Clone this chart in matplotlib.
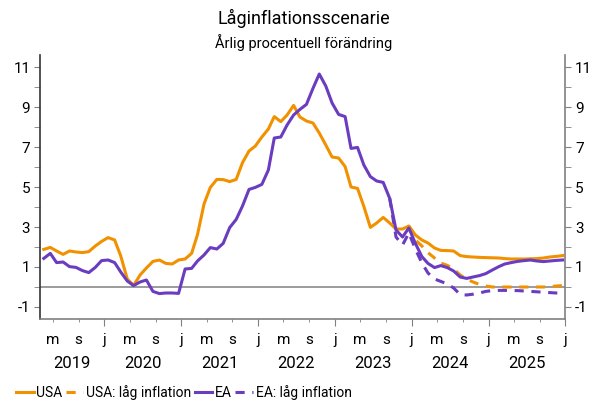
import matplotlib
matplotlib.use("Agg")
import matplotlib.pyplot as plt
import matplotlib.dates as mdates
import matplotlib.transforms as mtransforms
from matplotlib.ticker import MultipleLocator, FuncFormatter
import pandas as pd

# monthly data, Mar 2019 - Dec 2025
months = pd.date_range("2019-03-01", "2025-12-01", freq="MS")

usa = [1.88, 1.98, 1.8, 1.63, 1.8, 1.75, 1.72, 1.77, 2.05, 2.28,
       2.47, 2.35, 1.55, 0.4, 0.08, 0.6, 0.95, 1.28, 1.35, 1.18, 1.15, 1.35,
       1.4, 1.68, 2.62, 4.15, 4.98, 5.38, 5.37, 5.27, 5.38, 6.22, 6.8, 7.05,
       7.5, 7.9, 8.52, 8.27, 8.6, 9.08, 8.5, 8.3, 8.2, 7.7, 7.1, 6.5,
       6.45, 6.02, 5.0, 4.93, 4.03, 2.98, 3.2, 3.48, 3.2, 2.9, 2.9, 3.05,
       2.6, 2.35, 2.2, 1.95, 1.83, 1.82, 1.8, 1.57, 1.52, 1.5, 1.48, 1.47,
       1.46, 1.45, 1.42, 1.4, 1.4, 1.4, 1.41, 1.42, 1.45, 1.5, 1.53, 1.57]

ea = [1.43, 1.68, 1.22, 1.25, 1.02, 0.98, 0.82, 0.72, 0.98, 1.32,
      1.35, 1.22, 0.75, 0.3, 0.07, 0.25, 0.35, -0.22, -0.33, -0.3, -0.3, -0.32,
      0.9, 0.93, 1.3, 1.6, 1.97, 1.9, 2.18, 2.97, 3.38, 4.05, 4.88, 4.98,
      5.13, 5.85, 7.45, 7.5, 8.1, 8.6, 8.88, 9.13, 9.93, 10.65, 10.05, 9.2,
      8.63, 8.52, 6.93, 6.98, 6.1, 5.52, 5.3, 5.23, 4.43, 2.85, 2.5, 2.95,
      2.18, 1.52, 1.18, 0.97, 1.07, 0.97, 0.8, 0.5, 0.43, 0.5, 0.57, 0.67,
      0.85, 1.02, 1.15, 1.22, 1.28, 1.32, 1.35, 1.3, 1.27, 1.3, 1.33, 1.35]

# low inflation scenarios (start where they branch off)
usa_low_start = "2023-12-01"
usa_low = [3.05, 2.35, 2.05, 1.72, 1.45, 1.2, 1.08, 0.9, 0.6, 0.4, 0.25, 0.13,
           0.05, 0.0, 0.0, 0.0, 0.0, 0.0, 0.0, 0.0, 0.0, 0.0, 0.02, 0.05, 0.07]
ea_low_start = "2023-09-01"
ea_low = [4.43, 2.5, 2.1, 2.7, 1.9, 1.2, 0.7, 0.4, 0.28, 0.15, -0.05, -0.38,
          -0.4, -0.36, -0.3, -0.22, -0.18, -0.17, -0.17, -0.18, -0.18, -0.2,
          -0.22, -0.24, -0.26, -0.28, -0.3, -0.32]

years = [2019, 2020, 2021, 2022, 2023, 2024, 2025]
month_letters = {1: "j", 5: "m", 9: "s"}

orange = "#F29100"
purple = "#6A3DC0"
gray = "#808080"

plt.rcParams["font.family"] = ["Roboto", "DejaVu Sans"]

fig = plt.figure(figsize=(5.96, 4.01), dpi=100)
ax = fig.add_axes([0.0671, 0.2045, 0.8814, 0.6583])

# plot points at mid-month
shift = pd.Timedelta(days=18)
x = months + shift
x_ul = pd.date_range(usa_low_start, periods=len(usa_low), freq="MS") + shift
x_el = pd.date_range(ea_low_start, periods=len(ea_low), freq="MS") + shift

ax.axhline(0, color=gray, lw=1.1, zorder=1)
ax.plot(x, usa, color=orange, lw=2.2, label="USA", zorder=3)
ax.plot(x_ul, usa_low, color=orange, lw=2.2, ls=(0, (3, 2.5)), label="USA: låg inflation", zorder=2)
ax.plot(x, ea, color=purple, lw=2.2, label="EA", zorder=4)
ax.plot(x_el, ea_low, color=purple, lw=2.2, ls=(0, (3, 2.5)), label="EA: låg inflation", zorder=2)

ax.set_xlim(pd.Timestamp("2019-03-01"), pd.Timestamp("2026-01-01"))
ax.set_ylim(-1.6, 11.6)

# y axis on both sides
ax.yaxis.set_major_locator(MultipleLocator(2, offset=1))
ax.yaxis.set_minor_locator(MultipleLocator(2))
ax.yaxis.set_major_formatter(FuncFormatter(lambda v, p: f"{v:.0f}"))
ax.tick_params(axis="y", which="both", left=True, right=True, labelleft=True,
               labelright=True, direction="out", labelsize=11, color=gray)
ax.tick_params(axis="y", which="major", length=4, pad=3)
ax.tick_params(axis="y", which="minor", length=4)

# x axis: j at year start (long tick), m and s between
ax.xaxis.set_major_locator(mdates.MonthLocator(bymonth=[1]))
ax.xaxis.set_minor_locator(mdates.MonthLocator(bymonth=[5, 9]))
fmt = FuncFormatter(lambda v, p: month_letters[mdates.num2date(v).month])
ax.xaxis.set_major_formatter(fmt)
ax.xaxis.set_minor_formatter(fmt)
ax.tick_params(axis="x", which="major", length=5, labelsize=11, pad=5, color=gray)
ax.tick_params(axis="x", which="minor", length=2.5, labelsize=11, pad=7.5, color=gray)

ax.spines["top"].set_visible(False)
ax.spines["left"].set_color("#333333")
ax.spines["right"].set_color(gray)
ax.spines["bottom"].set_color(gray)
for s in ["left", "right", "bottom"]:
    ax.spines[s].set_linewidth(1.2)

# year labels centered on the visible part of each year
lo, hi = ax.get_xlim()
trans = mtransforms.blended_transform_factory(ax.transData, ax.transAxes)
for yr in years:
    a = max(mdates.date2num(pd.Timestamp(f"{yr}-01-01")), lo)
    b = min(mdates.date2num(pd.Timestamp(f"{yr + 1}-01-01")), hi)
    ax.text((a + b) / 2, -0.14, str(yr), transform=trans, ha="center",
            va="top", fontsize=12)

fig.text(0.51, 0.955, "Låginflationsscenarie", ha="center", va="center", fontsize=13)
fig.text(0.51, 0.893, "Årlig procentuell förändring", ha="center", va="center", fontsize=10.5)

fig.legend(loc="lower left", bbox_to_anchor=(0.018, -0.012), ncol=4, frameon=False,
           fontsize=10, handlelength=1.25, handletextpad=0.2, columnspacing=0.25,
           borderaxespad=0.0)

fig.savefig("out.png", dpi=100)
